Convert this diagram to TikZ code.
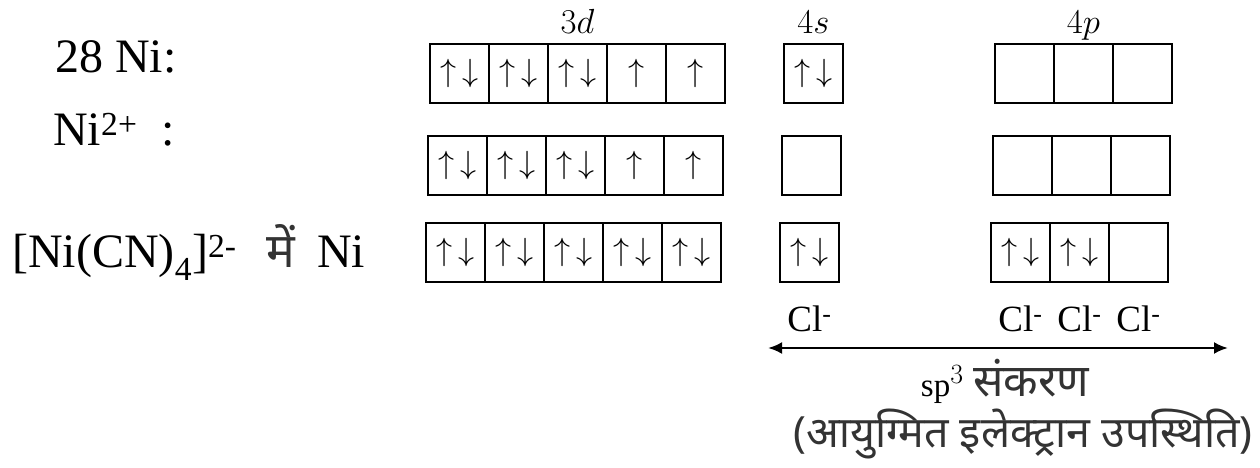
\documentclass[tikz,border=0pt]{standalone}
\usepackage{fontspec}
\setmainfont{Liberation Serif}
\newfontfamily\hindi[Script=Devanagari]{Noto Sans}
\usetikzlibrary{positioning,arrows.meta}

\newcommand{\enlarge}[1]{\scalebox{1.29}{#1}}
\newcommand{\pair}{\enlarge{$\uparrow\hspace{5pt}\downarrow$}}
\newcommand{\single}{\enlarge{$\uparrow$}}

\begin{document}
\begin{tikzpicture}[x=1pt, y=-1pt,
  orb/.style={draw, line width=2.2pt, minimum size=59pt, inner sep=0pt, outer sep=0pt, font=\fontsize{24.88}{25}\selectfont},
  shell/.style={inner sep=0pt, text depth=0pt, font=\fontsize{24.88}{25}\selectfont},
  ion/.style={anchor=base west, inner sep=0pt, font=\fontsize{48}{48}\selectfont},
  ligand/.style={inner sep=0pt, text height=24pt, text depth=0pt, font=\fontsize{37}{37}\selectfont}]
\useasboundingbox (0,0) rectangle (1260,468);

% Ni
\node (ni) [ion] at (55,73) {28 Ni:};
\node (da1) [orb, anchor=north west] at (430,44) {\pair};
\node (da2) [orb, right=0pt of da1] {\pair};
\node (da3) [orb, right=0pt of da2] {\pair};
\node (da4) [orb, right=0pt of da3] {\single};
\node (da5) [orb, right=0pt of da4] {\single};
\node (sa) [orb, right=59pt of da5] {\pair};
\node (pa1) [orb, right=152pt of sa] {};
\node (pa2) [orb, right=0pt of pa1] {};
\node (pa3) [orb, right=0pt of pa2] {};
\node (l3d) [shell, above=10pt of da3] {\scalebox{1.4}{$3d$}};
\node (l4s) [shell, above=10pt of sa] {\scalebox{1.4}{$4s$}};
\node (l4p) [shell, above=10pt of pa2] {\scalebox{1.4}{$4p$}};

% Ni2+
\node (nii) [ion] at (53,145) {Ni\textsuperscript{2+}\ \ :};
\node (db1) [orb, anchor=north west] at (428,136) {\pair};
\node (db2) [orb, right=0pt of db1] {\pair};
\node (db3) [orb, right=0pt of db2] {\pair};
\node (db4) [orb, right=0pt of db3] {\single};
\node (db5) [orb, right=0pt of db4] {\single};
\node (sb) [orb, right=59pt of db5] {};
\node (pb1) [orb, right=152pt of sb] {};
\node (pb2) [orb, right=0pt of pb1] {};
\node (pb3) [orb, right=0pt of pb2] {};

% [Ni(CN)4]2-
\node (cx) [ion] at (12,267) {[Ni(CN)\textsubscript{4}]\textsuperscript{2-}\hspace{30pt}{\hindi\color{black!80}में}\hspace{22pt}Ni};
\node (dc1) [orb, anchor=north west] at (426,223) {\pair};
\node (dc2) [orb, right=0pt of dc1] {\pair};
\node (dc3) [orb, right=0pt of dc2] {\pair};
\node (dc4) [orb, right=0pt of dc3] {\pair};
\node (dc5) [orb, right=0pt of dc4] {\pair};
\node (sc) [orb, right=59pt of dc5] {\pair};
\node (pc1) [orb, right=152pt of sc] {\pair};
\node (pc2) [orb, right=0pt of pc1] {\pair};
\node (pc3) [orb, right=0pt of pc2] {};

\node (cl0) [ligand, below=25pt of sc] {Cl\textsuperscript{-}};
\node (cl1) [ligand, below=25pt of pc1] {Cl\textsuperscript{-}};
\node (cl2) [ligand, below=25pt of pc2] {Cl\textsuperscript{-}};
\node (cl3) [ligand, below=25pt of pc3] {Cl\textsuperscript{-}};

\coordinate (hl) at (768,348);
\coordinate (hr) at (1228,348);
\draw [line width=2.6pt, {Latex[length=14pt,width=12pt]}-{Latex[length=14pt,width=12pt]}] (hl) -- (hr);
\node (hyb) [anchor=base, inner sep=0pt] at (1005,396) {\fontsize{33}{33}\selectfont sp\raisebox{13pt}{\scalebox{1.12}{\fontsize{24.88}{25}\selectfont$3$}}\hspace{10pt}{\hindi\color{black!80}\fontsize{45}{45}\selectfont संकरण}};
\node (note) [anchor=base, inner sep=0pt, text=black!80, font=\hindi\fontsize{43}{43}\selectfont] at (1023,447) {(आयुग्मित इलेक्ट्रान उपस्थिति)};
\end{tikzpicture}
\end{document}
